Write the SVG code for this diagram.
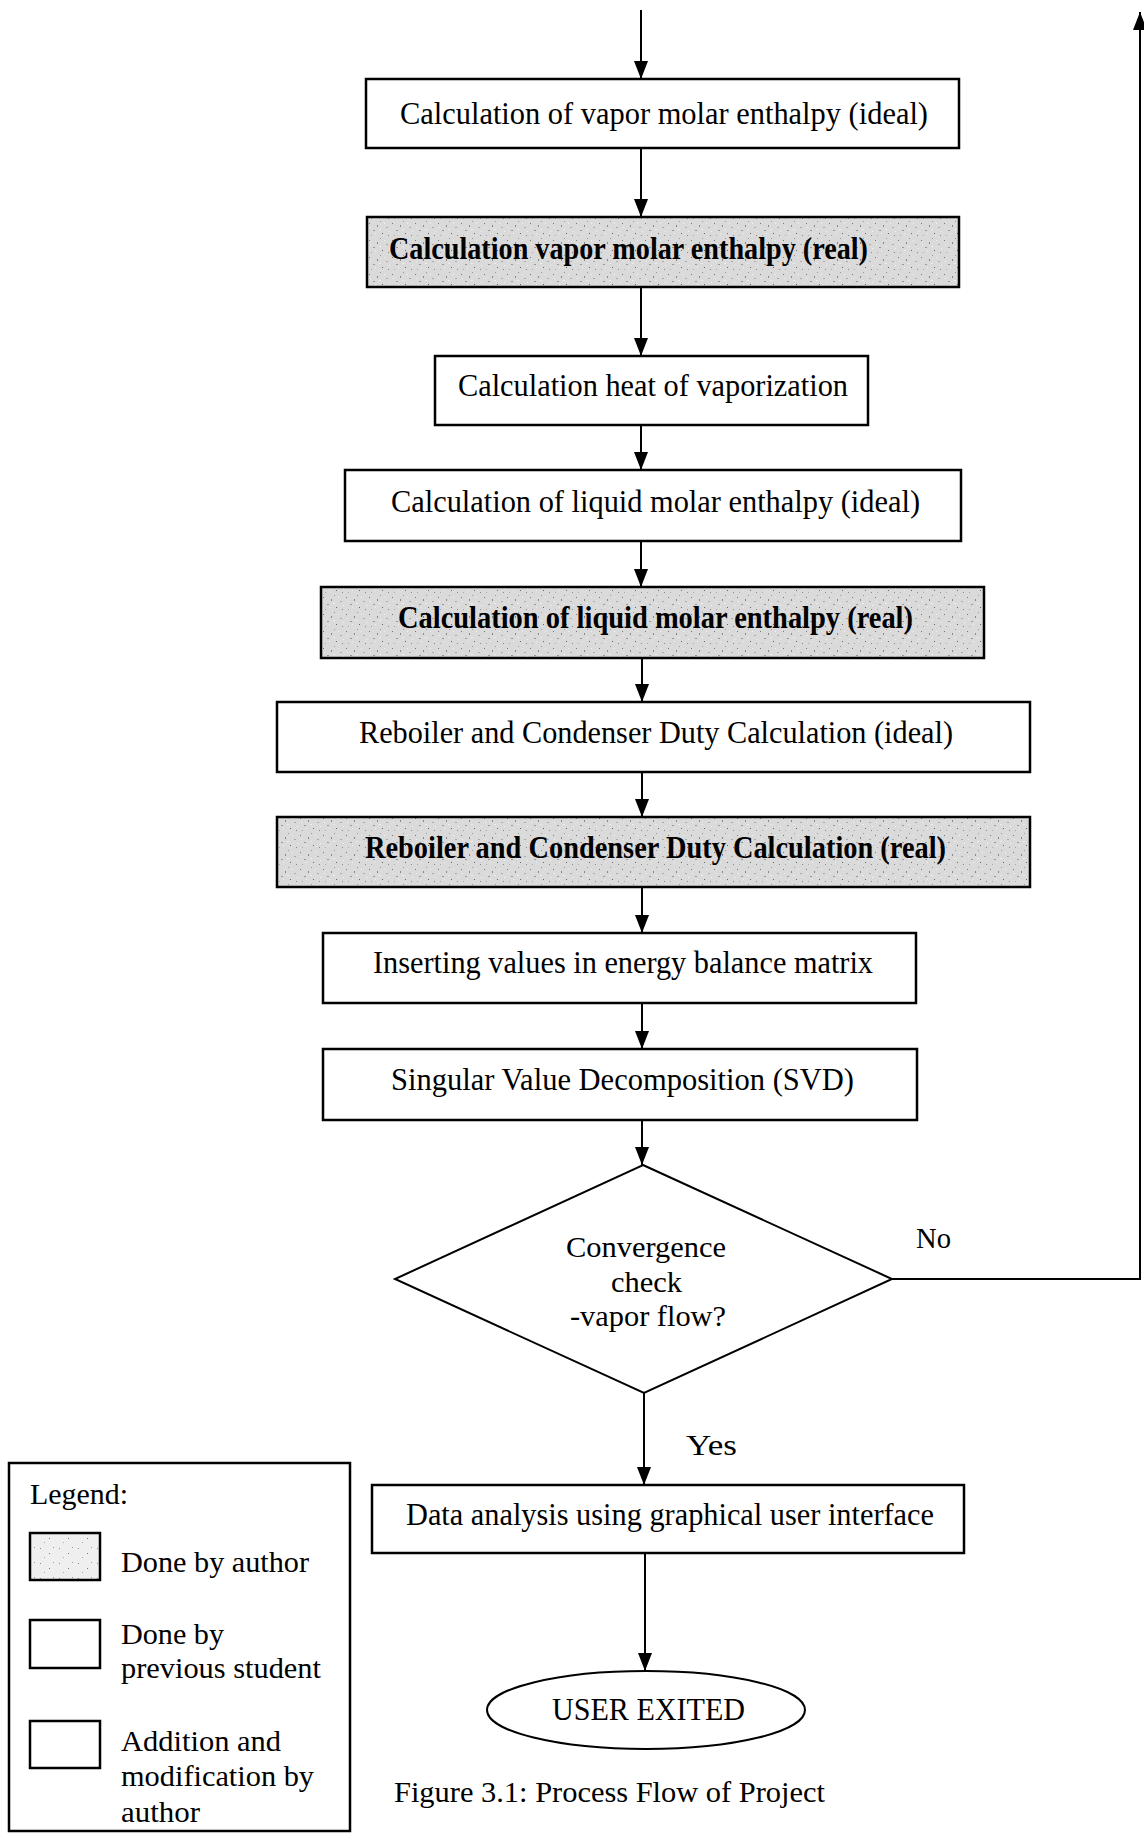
<svg xmlns="http://www.w3.org/2000/svg" width="1144" height="1833" viewBox="0 0 1144 1833">
<style>
.box{fill:#fff;stroke:#000;stroke-width:2.5}
.gray{fill:url(#stip);stroke:#000;stroke-width:2.5}
.t{font-family:"Liberation Serif","Times New Roman",serif;font-size:31px;fill:#000}
.b{font-weight:bold}
.s{font-size:30px}
.c{fill:none;stroke:#000;stroke-width:2}
</style>
<defs>
<marker id="ah" markerUnits="userSpaceOnUse" viewBox="0 0 18 14" refX="18" refY="7" markerWidth="18" markerHeight="14" orient="auto">
<path d="M0,0 L18,7 L0,14 z" fill="#000"/>
</marker>
<pattern id="stip" patternUnits="userSpaceOnUse" width="23" height="17">
<rect width="23" height="17" fill="#dadada"/>
<rect x="1" y="2" width="1" height="1" fill="#777"/>
<rect x="5" y="9" width="2" height="1" fill="#999"/>
<rect x="9" y="4" width="1" height="2" fill="#888"/>
<rect x="14" y="12" width="1" height="1" fill="#666"/>
<rect x="18" y="6" width="2" height="1" fill="#aaa"/>
<rect x="20" y="14" width="1" height="1" fill="#888"/>
<rect x="3" y="14" width="1" height="1" fill="#aaa"/>
<rect x="12" y="0" width="1" height="1" fill="#999"/>
<rect x="16" y="2" width="1" height="1" fill="#f2f2f2"/>
<rect x="7" y="12" width="1" height="1" fill="#f0f0f0"/>
<rect x="11" y="8" width="2" height="1" fill="#eee"/>
<rect x="21" y="10" width="1" height="1" fill="#f4f4f4"/>
<rect x="2" y="6" width="1" height="1" fill="#eee"/>
</pattern>
<pattern id="stip2" patternUnits="userSpaceOnUse" width="19" height="15">
<rect width="19" height="15" fill="#efefef"/>
<rect x="2" y="3" width="1" height="1" fill="#888"/>
<rect x="11" y="8" width="1" height="1" fill="#777"/>
<rect x="6" y="12" width="1" height="1" fill="#aaa"/>
<rect x="15" y="2" width="1" height="1" fill="#999"/>
</pattern>
</defs>
<rect x="0" y="0" width="1144" height="1833" fill="#fff"/>
<g id="connectors">
<line class="c" x1="641" y1="10" x2="641" y2="79" marker-end="url(#ah)"/>
<line class="c" x1="641" y1="148" x2="641" y2="217" marker-end="url(#ah)"/>
<line class="c" x1="641" y1="287" x2="641" y2="356" marker-end="url(#ah)"/>
<line class="c" x1="641" y1="425" x2="641" y2="470" marker-end="url(#ah)"/>
<line class="c" x1="641" y1="541" x2="641" y2="587" marker-end="url(#ah)"/>
<line class="c" x1="642" y1="658" x2="642" y2="702" marker-end="url(#ah)"/>
<line class="c" x1="642" y1="772" x2="642" y2="817" marker-end="url(#ah)"/>
<line class="c" x1="642" y1="887" x2="642" y2="933" marker-end="url(#ah)"/>
<line class="c" x1="642" y1="1003" x2="642" y2="1049" marker-end="url(#ah)"/>
<line class="c" x1="642" y1="1120" x2="642" y2="1165" marker-end="url(#ah)"/>
<line class="c" x1="644" y1="1393" x2="644" y2="1485" marker-end="url(#ah)"/>
<line class="c" x1="645" y1="1553" x2="645" y2="1671" marker-end="url(#ah)"/>
<polyline class="c" points="892,1279 1140,1279 1140,12" marker-end="url(#ah)"/>
<text class="t s" x="916" y="1248" textLength="35" lengthAdjust="spacingAndGlyphs">No</text>
<text class="t s" x="686" y="1455" textLength="51" lengthAdjust="spacingAndGlyphs">Yes</text>
</g>
<g id="n1"><rect class="box" x="366" y="79" width="593" height="69"/>
<text class="t" x="400" y="124" textLength="528" lengthAdjust="spacingAndGlyphs">Calculation of vapor molar enthalpy (ideal)</text></g>
<g id="n2"><rect class="gray" x="367" y="217" width="592" height="70"/>
<text class="t b" x="389" y="259" textLength="479" lengthAdjust="spacingAndGlyphs">Calculation vapor molar enthalpy (real)</text></g>
<g id="n3"><rect class="box" x="435" y="356" width="433" height="69"/>
<text class="t" x="458" y="396" textLength="390" lengthAdjust="spacingAndGlyphs">Calculation heat of vaporization</text></g>
<g id="n4"><rect class="box" x="345" y="470" width="616" height="71"/>
<text class="t" x="391" y="512" textLength="529" lengthAdjust="spacingAndGlyphs">Calculation of liquid molar enthalpy (ideal)</text></g>
<g id="n5"><rect class="gray" x="321" y="587" width="663" height="71"/>
<text class="t b" x="398" y="628" textLength="515" lengthAdjust="spacingAndGlyphs">Calculation of liquid molar enthalpy (real)</text></g>
<g id="n6"><rect class="box" x="277" y="702" width="753" height="70"/>
<text class="t" x="359" y="743" textLength="594" lengthAdjust="spacingAndGlyphs">Reboiler and Condenser Duty Calculation (ideal)</text></g>
<g id="n7"><rect class="gray" x="277" y="817" width="753" height="70"/>
<text class="t b" x="365" y="858" textLength="581" lengthAdjust="spacingAndGlyphs">Reboiler and Condenser Duty Calculation (real)</text></g>
<g id="n8"><rect class="box" x="323" y="933" width="593" height="70"/>
<text class="t" x="373" y="973" textLength="500" lengthAdjust="spacingAndGlyphs">Inserting values in energy balance matrix</text></g>
<g id="n9"><rect class="box" x="323" y="1049" width="594" height="71"/>
<text class="t" x="391" y="1090" textLength="463" lengthAdjust="spacingAndGlyphs">Singular Value Decomposition (SVD)</text></g>
<g id="n10"><polygon points="643,1165 892,1279 644,1393 395,1279" fill="#fff" stroke="#000" stroke-width="2"/>
<text class="t s" x="566" y="1257" textLength="160" lengthAdjust="spacingAndGlyphs">Convergence</text>
<text class="t s" x="611" y="1292" textLength="71" lengthAdjust="spacingAndGlyphs">check</text>
<text class="t s" x="570" y="1326" textLength="156" lengthAdjust="spacingAndGlyphs">-vapor flow?</text></g>
<g id="n11"><rect class="box" x="372" y="1485" width="592" height="68"/>
<text class="t" x="406" y="1525" textLength="528" lengthAdjust="spacingAndGlyphs">Data analysis using graphical user interface</text></g>
<g id="n12"><ellipse cx="646" cy="1710" rx="159" ry="39" fill="#fff" stroke="#000" stroke-width="2"/>
<text class="t" x="552" y="1720" textLength="193" lengthAdjust="spacingAndGlyphs">USER EXITED</text></g>
<g id="legend">
<rect x="9" y="1463" width="341" height="368" fill="#fff" stroke="#000" stroke-width="2.5"/>
<text class="t s" x="30" y="1504" textLength="98" lengthAdjust="spacingAndGlyphs">Legend:</text>
<rect x="30" y="1533" width="70" height="47" fill="url(#stip2)" stroke="#000" stroke-width="2.5"/>
<text class="t s" x="121" y="1572" textLength="188" lengthAdjust="spacingAndGlyphs">Done by author</text>
<rect x="30" y="1620" width="70" height="48" fill="#fff" stroke="#000" stroke-width="2.5"/>
<text class="t s" x="121" y="1644" textLength="103" lengthAdjust="spacingAndGlyphs">Done by</text>
<text class="t s" x="121" y="1678" textLength="200" lengthAdjust="spacingAndGlyphs">previous student</text>
<rect x="30" y="1721" width="70" height="47" fill="#fff" stroke="#000" stroke-width="2.5"/>
<text class="t s" x="121" y="1751" textLength="160" lengthAdjust="spacingAndGlyphs">Addition and</text>
<text class="t s" x="121" y="1786" textLength="193" lengthAdjust="spacingAndGlyphs">modification by</text>
<text class="t s" x="121" y="1822" textLength="79" lengthAdjust="spacingAndGlyphs">author</text>
</g>
<g id="caption">
<text class="t s" x="394" y="1802" textLength="431" lengthAdjust="spacingAndGlyphs">Figure 3.1: Process Flow of Project</text>
</g>
</svg>
